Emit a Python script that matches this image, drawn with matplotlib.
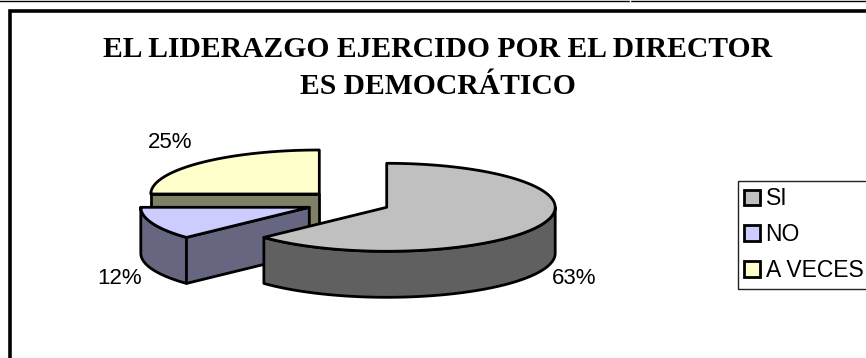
import numpy as np
import matplotlib
matplotlib.use("Agg")
import matplotlib.pyplot as plt
from matplotlib.patches import Patch, Polygon

labels = ["SI", "NO", "A VECES"]
values = [63, 12, 25]
top_colors = ["#c0c0c0", "#ccccff", "#ffffcc"]
side_colors = ["#606060", "#666680", "#808066"]

# pie geometry in pixels
rx, ry = 168.5, 44
depth = 46
centers = [(386.7, 207.3), (309.3, 207.3), (319.3, 194)]
lw = 2.0


def arc(cx, cy, a0, a1):
    t = np.radians(np.linspace(a0, a1, 120))
    return np.column_stack([cx + rx * np.cos(t), cy - ry * np.sin(t)])


def face(ax, pts, color, z):
    ax.add_patch(Polygon(pts, closed=True, facecolor=color, edgecolor="black",
                         linewidth=lw, joinstyle="round", zorder=z))


fig = plt.figure(figsize=(8.66, 3.58), dpi=100)
ax = fig.add_axes([0, 0, 1, 1])
ax.set_xlim(0, 866)
ax.set_ylim(358, 0)
ax.axis("off")

# outer frame, runs off the right and bottom
ax.plot([9.8, 9.8, 870], [362, 11, 11], color="black", lw=2.6,
        solid_joinstyle="miter", zorder=1)
ax.plot([0, 866], [0.5, 0.5], color="black", lw=1.0, zorder=1)
ax.plot([629.5, 629.5], [0, 1.5], color="white", lw=1.0, zorder=1)

# slices run clockwise from 12 o'clock
ends = 90 - np.cumsum(values) * 3.6
starts = np.r_[90, ends[:-1]]

# yellow slice: flat cut face along 180 degrees
cx, cy = centers[2]
face(ax, [(cx, cy), (cx - rx, cy), (cx - rx, cy + depth), (cx, cy + depth)], side_colors[2], 2)
face(ax, np.vstack([[(cx, cy)], arc(cx, cy, starts[2], ends[2])]), top_colors[2], 3)

# blue slice: outer rim and cut face towards the gray slice
cx, cy = centers[1]
rim = arc(cx, cy, starts[1], ends[1])
tip = rim[0]
face(ax, np.vstack([rim, rim[::-1] + [0, depth]]), side_colors[1], 4)
face(ax, [(cx, cy), tip, tip + [0, depth], (cx, cy + depth)], side_colors[1], 4)
face(ax, np.vstack([[(cx, cy)], rim]), top_colors[1], 5)

# gray slice: front rim from its cut edge round to the right side
cx, cy = centers[0]
rim = arc(cx, cy, ends[0], 0)
face(ax, np.vstack([rim, rim[::-1] + [0, depth]]), side_colors[0], 6)
face(ax, np.vstack([[(cx, cy)], arc(cx, cy, starts[0], ends[0])]), top_colors[0], 7)

# percentage labels
label_pos = [(574, 279), (119.5, 278), (170.5, 143)]
for v, (x, y) in zip(values, label_pos):
    ax.text(x, y, f"{v}%", fontsize=16, family="Liberation Sans",
            ha="center", va="center", zorder=8)

ax.text(438, 68, "EL LIDERAZGO EJERCIDO POR EL DIRECTOR\nES DEMOCRÁTICO",
        fontsize=21.3, fontweight="bold", family="Liberation Serif", ha="center",
        va="center", linespacing=1.5, zorder=8)

handles = [Patch(facecolor=c, edgecolor="black", linewidth=lw) for c in top_colors]
leg = ax.legend(handles, labels, loc="upper left", bbox_to_anchor=(738, 181),
                bbox_transform=ax.transData, prop={"family": "Liberation Sans", "size": 16.5},
                handlelength=0.67, handleheight=0.67, handletextpad=0.25,
                labelspacing=0.56, borderpad=0.28, borderaxespad=0, fancybox=False,
                framealpha=1, edgecolor="#222222")
leg.get_frame().set_linewidth(1.0)

fig.savefig("out.png", dpi=100)
